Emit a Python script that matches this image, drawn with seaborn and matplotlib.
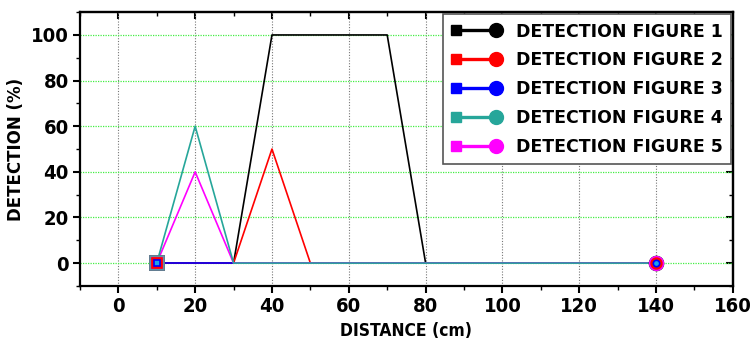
import matplotlib
matplotlib.use("Agg")
import matplotlib.pyplot as plt
from matplotlib.lines import Line2D
from matplotlib.legend_handler import HandlerBase
from matplotlib.ticker import MultipleLocator
from matplotlib import font_manager
import seaborn as sns
import pandas as pd

distance = [10, 20, 30, 40, 50, 60, 70, 80, 90, 100, 110, 120, 130, 140]
fig1 = [0, 0, 0, 100, 100, 100, 100, 0, 0, 0, 0, 0, 0, 0]
fig2 = [0, 0, 0, 50, 0, 0, 0, 0, 0, 0, 0, 0, 0, 0]
fig3 = [0, 0, 0, 0, 0, 0, 0, 0, 0, 0, 0, 0, 0, 0]
fig4 = [0, 60, 0, 0, 0, 0, 0, 0, 0, 0, 0, 0, 0, 0]
fig5 = [0, 40, 0, 0, 0, 0, 0, 0, 0, 0, 0, 0, 0, 0]
labels = ["DETECTION FIGURE 1", "DETECTION FIGURE 2", "DETECTION FIGURE 3",
          "DETECTION FIGURE 4", "DETECTION FIGURE 5"]
series = [fig1, fig2, fig3, fig4, fig5]
colors = ["#000000", "#ff0000", "#0000ff", "#26a69a", "#ff00ff"]
x_ticks = [0, 20, 40, 60, 80, 100, 120, 140, 160]
y_ticks = [0, 20, 40, 60, 80, 100]

rows = []
for lab, vals in zip(labels, series):
    for xv, yv in zip(distance, vals):
        rows.append({"distance": xv, "detection": yv, "series": lab})
df = pd.DataFrame(rows)

sns.set_theme(style="white")
plt.rcParams["font.family"] = ["DejaVu Sans"]
for key in ["text.color", "axes.labelcolor", "xtick.color", "ytick.color"]:
    plt.rcParams[key] = "black"

cond_files = [f for f in font_manager.fontManager.ttflist
              if f.name == "DejaVu Sans" and "condensed" in str(f.stretch).lower()]
has_cond = len(cond_files) > 0

fig = plt.figure(figsize=(7.54, 3.47), dpi=100)
ax = fig.add_axes([0.106, 0.176, 0.866, 0.789])

sns.lineplot(data=df, x="distance", y="detection", hue="series",
             hue_order=labels, palette=colors, estimator=None, sort=False,
             linewidth=1.2, ax=ax, legend=False)
for i, ln in enumerate(ax.lines[:5]):
    ln.set_zorder([3, 3.1, 3.2, 3.4, 3.3][i])

sq_sizes = [10, 10, 9, 11, 9]
ci_sizes = [10, 9.5, 7, 10, 11]
order = [0, 3, 4, 1, 2]
for k, i in enumerate(order):
    face = "#1aa3e8" if i == 2 else colors[i]
    edge = colors[i] if i != 3 else "#6f8fa8"
    ax.plot(distance[0], series[i][0], marker="s", ms=sq_sizes[i] - k * 1.0,
            mfc=face, mec=edge, mew=1.2, ls="none", zorder=5 + k)
for k, i in enumerate(order):
    face = "#1aa3e8" if i == 2 else colors[i]
    ax.plot(distance[-1], series[i][-1], marker="o", ms=ci_sizes[i] - k * 0.6,
            mfc=face, mec=colors[i], mew=1.2, ls="none", zorder=5 + k)

ax.set_xlim(-10, 160)
ax.set_ylim(-10, 110)
ax.set_xticks(x_ticks)
ax.set_yticks(y_ticks)
ax.xaxis.set_minor_locator(MultipleLocator(10))
ax.yaxis.set_minor_locator(MultipleLocator(10))

if has_cond:
    tick_font = {"family": "DejaVu Sans", "weight": "bold", "stretch": "condensed", "size": 14.5}
else:
    tick_font = {"family": "DejaVu Sans", "weight": "bold", "size": 13}
ax.set_xticklabels([str(v) for v in x_ticks], fontdict=tick_font)
ax.set_yticklabels([str(v) for v in y_ticks], fontdict=tick_font)

ax.tick_params(axis="both", which="major", direction="out", length=5, width=1.5,
               color="black", pad=3, bottom=True, left=True, top=False, right=False)
ax.tick_params(axis="both", which="minor", direction="out", length=3, width=1,
               color="black", bottom=True, left=True, top=False, right=False)

secx = ax.secondary_xaxis("top")
secx.set_xticks(x_ticks)
secx.xaxis.set_minor_locator(MultipleLocator(10))
secx.tick_params(which="major", direction="in", length=5, width=1.5, labeltop=False)
secx.tick_params(which="minor", direction="in", length=3, width=1, labeltop=False)
secx.spines["top"].set_linewidth(1.6)
secy = ax.secondary_yaxis("right")
secy.set_yticks(y_ticks)
secy.yaxis.set_minor_locator(MultipleLocator(10))
secy.tick_params(which="major", direction="in", length=5, width=1.5, labelright=False)
secy.tick_params(which="minor", direction="in", length=3, width=1, labelright=False)
secy.spines["right"].set_linewidth(1.6)

ax.grid(False)
for xv in x_ticks:
    ax.axvline(xv, color="#777777", linestyle=(0, (1, 1.5)), linewidth=0.8, zorder=0.5)
for yv in y_ticks:
    ax.axhline(yv, color="#44ee44", linestyle=(0, (1, 1)), linewidth=0.9, zorder=0.5)

for s in ax.spines.values():
    s.set_visible(True)
    s.set_color("black")
    s.set_linewidth(1.6)

xl_kw = {"family": "DejaVu Sans", "weight": "bold"}
if has_cond:
    xl_kw.update({"stretch": "condensed", "size": 12.5})
else:
    xl_kw.update({"size": 11.5})
ax.set_xlabel("DISTANCE (cm)", fontdict=xl_kw, labelpad=4)
ax.set_ylabel("DETECTION (%)", fontsize=12, fontweight="bold", labelpad=4)


class StartEndHandler(HandlerBase):
    def create_artists(self, legend, orig_handle, xdescent, ydescent, width,
                       height, fontsize, trans):
        c = orig_handle.get_color()
        y = height / 2 - ydescent
        x0, x1 = -xdescent + 3, -xdescent + width - 3
        line = Line2D([x0, x1], [y, y], color=c, lw=2.4, transform=trans)
        sq = Line2D([x0], [y], color=c, marker="s", ms=7.5, ls="none", transform=trans)
        ci = Line2D([x1], [y], color=c, marker="o", ms=10, ls="none", transform=trans)
        return [line, sq, ci]


handles = [Line2D([], [], color=c) for c in colors]
leg = ax.legend(handles, labels, handler_map={Line2D: StartEndHandler()},
                loc="upper right", bbox_to_anchor=(1.0, 1.0),
                prop={"weight": "bold", "size": 12.5}, frameon=True, fancybox=False,
                edgecolor="#555555", framealpha=1, handlelength=2.8,
                handletextpad=0.9, labelspacing=0.62, borderpad=0.5,
                borderaxespad=0.1)
leg.get_frame().set_linewidth(1.2)
leg.set_zorder(20)

fig.savefig("out.png", dpi=100)
